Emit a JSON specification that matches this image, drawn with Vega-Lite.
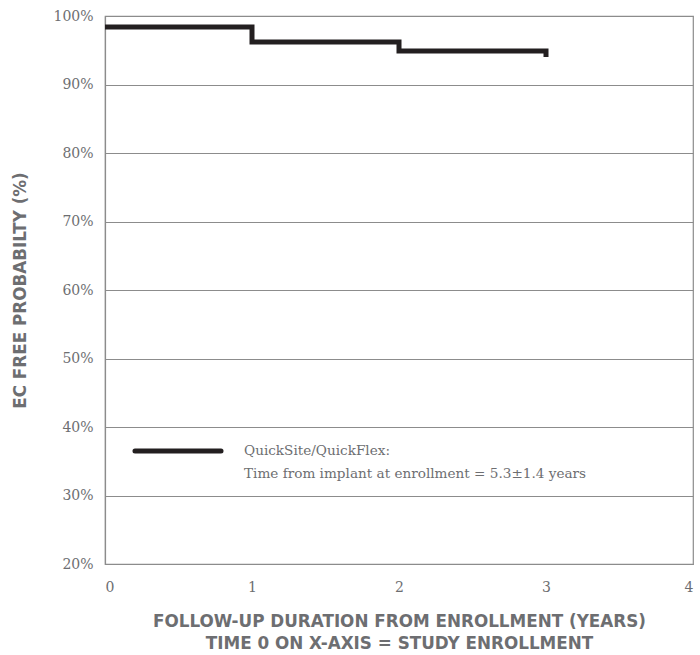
{
  "$schema": "https://vega.github.io/schema/vega-lite/v6.json",
  "width": 588,
  "height": 548,
  "autosize": {"type": "none"},
  "padding": {"left": 105, "top": 16, "right": 7, "bottom": 91},
  "background": "white",
  "config": {
    "view": {"stroke": "#8c8c8c", "strokeWidth": 1.2},
    "axis": {
      "domainColor": "#8c8c8c",
      "domainWidth": 1.2,
      "gridColor": "#8c8c8c",
      "gridWidth": 1,
      "gridOpacity": 1,
      "ticks": false,
      "labelFont": "DejaVu Serif",
      "labelFontSize": 14,
      "labelColor": "#6d6e71",
      "titleFont": "DejaVu Sans",
      "titleFontWeight": "bold",
      "titleFontSize": 16.8,
      "titleColor": "#6d6e71"
    }
  },
  "data": {
    "values": [
      {"i": 0, "t": 0, "p": 98.4, "series": "QuickSite/QuickFlex"},
      {"i": 1, "t": 1, "p": 96.2, "series": "QuickSite/QuickFlex"},
      {"i": 2, "t": 2, "p": 94.9, "series": "QuickSite/QuickFlex"},
      {"i": 3, "t": 3, "p": 94.9, "series": "QuickSite/QuickFlex"},
      {"i": 4, "t": 3, "p": 94.0, "series": "QuickSite/QuickFlex"}
    ]
  },
  "mark": {"type": "line", "interpolate": "step-after", "strokeWidth": 5, "strokeJoin": "miter", "strokeCap": "butt"},
  "encoding": {
    "x": {
      "field": "t",
      "type": "quantitative",
      "scale": {"domain": [0, 4], "nice": false},
      "axis": {
        "values": [0, 1, 2, 3, 4],
        "grid": false,
        "labelPadding": 16,
        "title": ["FOLLOW-UP DURATION FROM ENROLLMENT (YEARS)", "TIME 0 ON X-AXIS = STUDY ENROLLMENT"],
        "titleLineHeight": 22,
        "titleBaseline": "top",
        "titleY": 49
      }
    },
    "y": {
      "field": "p",
      "type": "quantitative",
      "scale": {"domain": [20, 100], "nice": false, "zero": false},
      "axis": {
        "values": [20, 30, 40, 50, 60, 70, 80, 90, 100],
        "labelExpr": "datum.value + '%'",
        "labelPadding": 12,
        "title": "EC FREE PROBABILTY (%)",
        "titleAngle": -90,
        "titleX": -85,
        "titleY": 274,
        "titleAlign": "center",
        "titleBaseline": "middle"
      }
    },
    "stroke": {
      "field": "series",
      "type": "nominal",
      "scale": {"range": ["#231f20"]},
      "legend": {
        "orient": "none",
        "legendX": 27,
        "legendY": 389,
        "title": null,
        "symbolType": "stroke",
        "symbolSize": 7400,
        "symbolStrokeWidth": 5,
        "labelFont": "DejaVu Serif",
        "labelFontSize": 13.6,
        "labelColor": "#6d6e71",
        "labelOffset": 20,
        "labelLimit": 0,
        "labelExpr": "['QuickSite/QuickFlex:', 'Time from implant at enrollment = 5.3±1.4 years']",
        "encode": {
          "symbols": {"update": {"strokeCap": {"value": "round"}}},
          "labels": {"update": {"lineHeight": {"value": 23}}}
        }
      }
    },
    "order": {"field": "i"}
  }
}
